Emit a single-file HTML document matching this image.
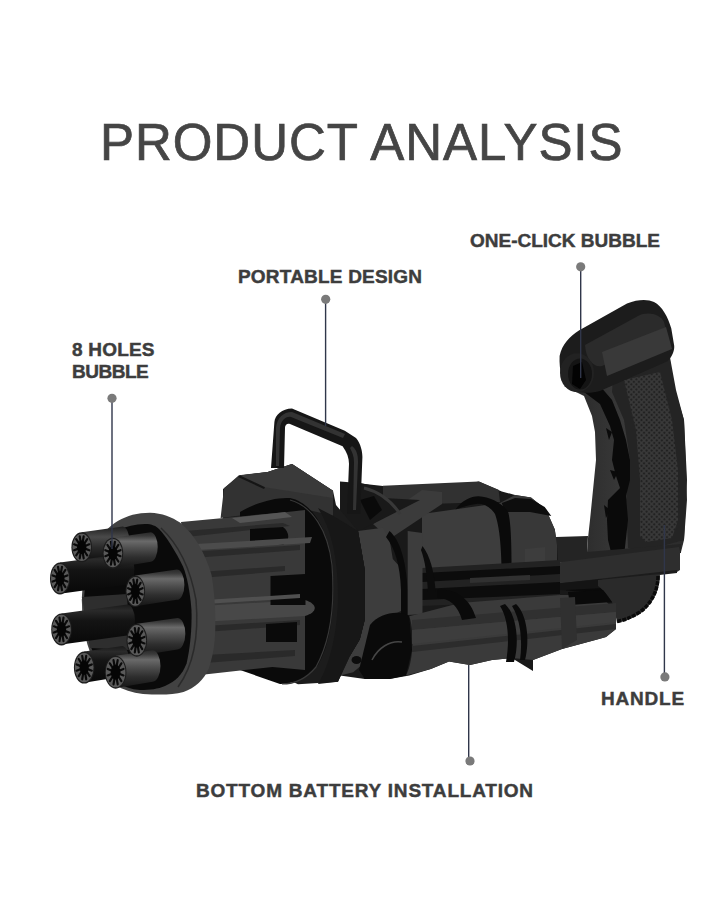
<!DOCTYPE html>
<html><head><meta charset="utf-8">
<style>
html,body{margin:0;padding:0;background:#fff;width:727px;height:900px;overflow:hidden;position:relative}
.t{position:absolute;font-family:"Liberation Sans",sans-serif;white-space:nowrap;line-height:1;color:#3d3d3d}
.title{font-size:51px;color:#454545;left:100px;top:117px;letter-spacing:0.95px;-webkit-text-stroke:0.7px #454545}
.lb{font-weight:bold;font-size:19px;-webkit-text-stroke:0.45px #3d3d3d}
svg{position:absolute;left:0;top:0}
</style></head><body>
<svg width="727" height="900" viewBox="0 0 727 900">

<defs>
<linearGradient id="barrelG" x1="0" y1="0" x2="0" y2="1"><stop offset="0" stop-color="#2a2a2a"/><stop offset="0.1" stop-color="#3a3a3a"/><stop offset="0.25" stop-color="#6a6a6a"/><stop offset="0.45" stop-color="#4e4e4e"/><stop offset="0.7" stop-color="#2e2e2e"/><stop offset="1" stop-color="#151515"/></linearGradient>
<linearGradient id="barrelM" x1="0" y1="0" x2="0" y2="1"><stop offset="0" stop-color="#1e1e1e"/><stop offset="0.3" stop-color="#4a4a4a"/><stop offset="0.6" stop-color="#2a2a2a"/><stop offset="1" stop-color="#0e0e0e"/></linearGradient>
<linearGradient id="barrelD" x1="0" y1="0" x2="0" y2="1"><stop offset="0" stop-color="#1a1a1a"/><stop offset="0.15" stop-color="#2a2a2a"/><stop offset="0.4" stop-color="#141414"/><stop offset="1" stop-color="#080808"/></linearGradient>
<pattern id="knurl" width="3.6" height="3.6" patternUnits="userSpaceOnUse" patternTransform="rotate(45)"><rect width="3.6" height="3.6" fill="#3a3a3a"/><rect x="0.7" y="0.7" width="2.2" height="2.2" fill="#222"/></pattern>
</defs>
<g id="gun">
<!-- ===== GRIP ===== -->
<defs><linearGradient id="gripL" x1="0" y1="0" x2="1" y2="0"><stop offset="0" stop-color="#272727"/><stop offset="0.5" stop-color="#393939"/><stop offset="1" stop-color="#2a2a2a"/></linearGradient></defs>
<g id="grip">
<path d="M564 386 L584 396 L592 416 L595 432 L596 460 L594 480 L592 500 L590 520 L588 538 L587 552 L681 552 L684 540 L687 500 L686 470 L684 420 L672 380 L669 350 L613 376 L590 380 Z" fill="url(#gripL)"/>
<path d="M613 378 L669 352 L676 390 L684 420 L687 480 L684 540 L640 552 L628 548 L626 500 L630 460 L624 420 L612 392 Z" fill="#242424"/>
<path d="M584 392 L600 404 L610 426 L614 440 L612 460 L616 476 L620 488 L608 500 L607 520 L608 540 L612 556 L624 556 L628 520 L626 496 L630 480 L630 460 L626 440 L620 420 L612 400 L600 386 Z" fill="#0a0a0a"/>
<path d="M606 428 L612 432 L609 440 Z M610 470 L618 472 L614 480 Z M604 505 L610 510 L606 518 Z" fill="#0a0a0a"/>
<path d="M624 380 L660 372 L672 420 L678 470 L678 520 L672 538 L646 542 L640 536 L640 480 L636 430 Z" fill="url(#knurl)"/>
</g>
<!-- grip cap -->
<g id="cap">
<path d="M559.6 356 C559 370 562 384 570 389 C576 393 590 394 600 391 L667.5 361.2 C673 356 674.5 350 674.2 345.8 L671.3 328.5 C668 317 662 306 654 302 C648 299 638 299 627 303.5 L578.9 330.4 C570 336 562 344 559.6 356 Z" fill="#1c1c1c"/>
<path d="M585 345 L638 316 C648 311 660 314 664 322 L668 338 L602 366 C594 368 586 360 585 345 Z" fill="#2b2b2b"/>
<path d="M602 352 L666 327 L672 349 L607 376 Z" fill="#393939"/>
<ellipse cx="577" cy="372.8" rx="17" ry="19.5" fill="#222222"/>
<ellipse cx="580" cy="374" rx="12" ry="15.5" fill="#141414"/>
<path d="M573 366 L582 362 L586 380 L580 389 L572 384 Z" fill="#030303"/>
</g>
<!-- trigger bar -->
<g id="bar">
<path d="M556 537 L588 536 L587 552 L681 544 L681 553 L556 563 Z" fill="#242424"/>
<path d="M554 563 L679 547 L680 551 L680 570 L677 572 L554 587 Z" fill="#2e2e2e"/>
<path d="M554 584 L677 570 L677 573 L554 587 Z" fill="#1c1c1c"/>
</g>
<!-- guard curve -->
<g id="guard">
<path d="M552 584 L602 579 L618 612 L598 600 L556 598 Z" fill="#141414"/>
<path d="M566 590 L604 588 L608 600 L568 602 Z" fill="#0a0a0a"/>
<path d="M598 580 L660 574 C660 590 653 604 641 613 C633 618 626 621 617 623 L614 606 C610 598 604 590 598 586 Z" fill="#2a2a2a"/>
<path d="M658 576 C658 591 651 604 640 612 C632 617 625 620 617 621.5" stroke="#0a0a0a" stroke-width="3.5" fill="none" stroke-dasharray="4 1.2"/>
</g>
<!-- ===== MID BODY ===== -->
<g id="mid">
<!-- base silhouette dark -->
<path d="M340 481.6 L361.5 483.2 L373 485.7 L411 489 L460 484.9 L479 481.5 L501.8 491.4 L515 495 L531 497.5 L546 509.6 L554.8 529.4 L557 545 L560 590 L600 593 L616 612 L616 629 L606 637 L599 639 L562 649 L533 660 L533 671 L511.7 658 L492 660 L470 665 L449 661.4 L430.8 669 L409.3 675.6 L389.5 679 L364.8 679 L340 675.6 Z" fill="#191919"/>
<!-- top bar front face -->
<path d="M383 485.7 L478.7 481.5 L498.5 489.7 L500 502 L460 503 L430 504 L400 502 L383 498 Z" fill="#313131"/>
<!-- mid cylinder -->
<path d="M422 514 L500 503 L515 506 L520 590 L422 600 Z" fill="#3d3d3d"/>
<!-- right segment -->
<path d="M500 503 L515 495 L531 497.5 L546 509.6 L554.8 529.4 L557 545 L557 588 L510 592 L505 520 Z" fill="#383838"/>
<path d="M501.8 503 L515 498 L531 499 L544.7 507 L551.3 516 L530 512 L505 512 Z" fill="#0d0d0d"/>
<path d="M525 549 L545 547 L545 566 L525 568 Z" fill="#3d3d3d"/>
<!-- black C arc -->
<path d="M455.5 509.5 C462 500 472 496 478.7 496.3 C490 497 503 503 508.4 512.8 C511 525 511.7 540 511.7 590 L501.8 591 C501.8 560 501 530 495 514 C490 506 482 503 476 504 C468 505 460 508 455.5 509.5 Z" fill="#0a0a0a"/>
<!-- beam -->
<path d="M373 524 L422 490 L442 492 L442 504 L389.5 539 Z" fill="#3b3b3b"/>
<!-- openings above plate (rings behind) -->
<path d="M356 483 L383 486 L383 498 L420 500 L373 524 L360 530 L356 520 Z" fill="#191919"/>
<path d="M360 500 L374 496 L382 510 L370 520 Z" fill="#0a0a0a"/>
<path d="M364 488 C380 492 392 502 400 514" stroke="#383838" stroke-width="3" fill="none"/>
<!-- black strip band -->
<path d="M422 568 L560 560 L560 600 L422 606 Z" fill="#222222"/>
<path d="M422 573 L560 566 L560 574 L422 582 Z" fill="#0c0c0c"/>
<path d="M422 589 L560 582 L560 594 L422 600 Z" fill="#0c0c0c"/>
<path d="M470 578 L530 575 L530 580 L470 583 Z" fill="#313131"/>
<!-- plate (housing front) -->
<path d="M358 531 L383 527.8 L389.5 539.3 L392.8 559 L402.7 570 L401 611 L389.5 616.2 L376.3 639.3 L364.8 662.4 L353.2 672.3 L340 675.6 L340 662.4 L350 655.8 L359.8 639.3 L364.8 619.5 L364.8 570 Z" fill="#3d3d3d"/>
<path d="M340 523 L358 531 L364.8 570 L364.8 619.5 L359.8 639.3 L350 655.8 L340 662.4 Z" fill="#0a0a0a"/>
<ellipse cx="356.5" cy="660" rx="5" ry="4" fill="#0c0c0c"/>
<!-- thin ring -->
<path d="M389.5 531 C400 540 406 560 407.7 590 L407.7 615 L401 615 L401 590 C400 565 395 548 386 537 Z" fill="#0a0a0a"/>
<path d="M407.7 531 L422.5 533 L422.5 614 L407.7 615 Z" fill="#3d3d3d"/>
<path d="M422.5 546 C430 556 434 570 435.7 592 L428 592 C427 575 425 560 421 550 Z" fill="#0c0c0c"/>
<!-- tube opening black -->
<path d="M370 625 C380 612 400 610 409.3 616 L412 650 L406 675.6 L389.5 679 L364.8 679 L359 670 Z" fill="#0a0a0a"/>
<path d="M372 660 C378 648 390 640 402 642" stroke="#464646" stroke-width="1.5" fill="none"/>
<!-- battery tube -->
<path d="M409.3 616.2 L460 603 L560 595 L600 595 L616 612 L616 629 L606 637 L599 639 L562 649 L533 660 L511.7 658 L492 660 L470 665 L449 661.4 L430.8 669 L406 675.6 C414 660 414 630 409.3 616.2 Z" fill="#3a3a3a"/>
<path d="M412 646 L616 624 L616 629 L412 652 Z" fill="#2c2c2c"/>
<path d="M568 592 L603 590 L612 602 L570 605 Z" fill="#0a0a0a"/>
<path d="M412 620 L616 603 L616 612 L412 630 Z" fill="#303030"/>
<path d="M412 630 L616 612 L616 622 L412 644 Z" fill="#3d3d3d"/>
<path d="M437 590 C455 588 470 598 476 618 L462 620 C458 606 450 598 437 598 Z" fill="#0a0a0a"/>
<path d="M505 604 C516 614 520 640 514 662 L506 662 C510 640 508 618 500 606 Z" fill="#0a0a0a"/>
<path d="M516 604 C527 614 530 640 525 660 L520 660 C523 640 520 618 512 606 Z" fill="#0a0a0a"/>
<path d="M560 598 L575 597 L577 640 L562 649 Z" fill="#303030"/>
</g>
<!-- ===== HOUSING ===== -->
<g id="house">
<!-- housing face -->
<path d="M223 489 L240 475.6 L267.8 472 L292 464 L333 490.8 L336 505 L358 531 L364.8 570 L364.8 619.5 L359.8 639.3 L350 655.8 L338 681.7 L298 684.3 L263 668 L223 668 Z" fill="#1c1c1c"/>
<!-- top block front -->
<path d="M224 488.2 L238.9 475.2 L267.8 472 L292 464 L333 490.8 L333 515.8 L300 508 L220.6 518 Z" fill="#323232"/>
<path d="M240 475.6 L267.8 472 L292 464 L333 490.8 L333 498 L265 487.2 Z" fill="#3a3a3a"/>
<path d="M240 475.6 L265 487.2 L264 489 L238 477 Z" fill="#151515"/>
<!-- black rear ring -->
<path d="M240 512 C255 503 275 497 290 498 C310 502 326 525 332 560 C336 600 332 640 318 665 C308 678 295 684 280 684 L240 670 Z" fill="#0a0a0a"/>
<path d="M290 500 C312 506 328 530 332 565 C335 605 331 640 316 667 C306 679 294 684 282 684" stroke="#383838" stroke-width="1.2" fill="none"/>
<path d="M333 515.8 L358 531 L364.8 570 L364.8 619.5 L359.8 639.3 L350 655.8 L338 681.7 L318 684 C330 665 338 630 338 595 C338 560 332 530 318 508 Z" fill="#171717"/>
</g>
<!-- carry handle -->
<g id="handle">
<path d="M271 468 L274.4 422 C275 415 282 408.4 292 408.4 L344.8 430.8 L356 438 C361 444 362.4 452 362.4 457 L360.2 514 L347 514 L349 463.8 C349 458 347 452 342.6 446.2 L290 424 C287 423 285 425 285 428 L284 468 Z" fill="#161616"/>
<path d="M276 428 C277 418 283 412 292 412 L345 434 L343 438 L291 417 C286 416 281 420 280 428 L279 466 L276 466 Z" fill="#333333"/>
<path d="M352 446 C357 450 358 455 358 462 L356 510 L353 510 L354 462 C354 456 352 452 350 448 Z" fill="#333333"/>
</g>
<!-- ===== FRONT BODY ===== -->
<g id="fbody">
<path d="M181 522 L282.8 512.4 L305 510 L305 670 L272.5 667 L200 675 Z" fill="#393939"/>
<path d="M185 531 L283 523 L290 526 L186 537 Z" fill="#2a2a2a"/>
<path d="M195 551.6 L300 545 L300 550 L196 557.8 Z" fill="#2a2a2a"/>
<path d="M200 572 L285 566 L285 571 L200 578 Z" fill="#2a2a2a"/>
<path d="M205 626 L300 620 L300 625 L205 632 Z" fill="#2a2a2a"/>
<path d="M205 655 L295 650 L295 656 L205 663 Z" fill="#2a2a2a"/>
<path d="M200 606 L305 600 C318 604 318 612 305 616 L200 622 Z" fill="#484848"/>
<path d="M250 529 L283 527 C290 532 290 542 283 545 L250 545 Z" fill="#0a0a0a"/>
<path d="M270.5 576 L305.5 574 L305.5 605 L270.5 605 Z" fill="#0a0a0a"/>
<path d="M266 624 L297 622 L297 642 L266 642 Z" fill="#0a0a0a"/>
</g>
<path d="M232 518 L285 512 L292 517 L240 523 Z" fill="#555"/>
<path d="M196 544 L312 537 L310 543 L198 550 Z" fill="#4c4c4c"/>
<path d="M205 600 L300 594 L300 598 L205 604 Z" fill="#505050"/>
<!-- ===== FRONT DISC ===== -->
<g id="disc">
<path d="M150 512.7 C162 513 172 517 180 522.6 C195 535 205 553 211.6 575 C214 590 215.5 606 215.3 622.7 C215.5 640 214 652 209 668 C204 680 195 688 183.5 692 C172 695 160 695 143 694 C100 690 82 650 82 604 C82 560 100 512.7 150 512.7 Z" fill="#424242"/>
<path d="M161 528 C176 542 190 566 196 600 C199 635 194 665 178 687" stroke="#2a2a2a" stroke-width="1.5" fill="none"/>
<path d="M145 524 C152 524 156 526 159 529 C166 536 176 552 183 566.6 C187 576 190 592 191.5 610 C192 630 190 648 186.6 663.5 C182 675 176 681 165 686 C158 689 150 690 140 690 C105 688 84 650 84 604 C84 560 105 524 145 524 Z" fill="#0a0a0a"/>
<path d="M82 597 L127 594 L130 650 L90 648 Z" fill="#2e2e2e"/>
</g>
</g>
<g id="barrels">
<path d="M81.7 532.3 L122.8 526.5 A7.2 14.4 0 0 1 122.8 555.2 L81.7 561.5 Z" fill="url(#barrelM)"/>
<path d="M60.0 562.5 L127.2 553.5 A7.8 15.6 0 0 1 127.2 584.6 L60.0 593.7 Z" fill="url(#barrelD)"/>
<path d="M61.5 613.4 L127.2 604.6 A7.8 15.5 0 0 1 127.2 635.6 L61.5 644.6 Z" fill="url(#barrelD)"/>
<path d="M84.2 651.6 L122.4 646.1 A7.6 15.3 0 0 1 122.4 676.6 L84.2 682.8 Z" fill="url(#barrelD)"/>
<path d="M112.9 537.7 L150.9 532.3 A7.4 14.8 0 0 1 150.9 561.8 L112.9 567.9 Z" fill="url(#barrelG)"/>
<path d="M135.3 575.5 L176.8 569.6 A7.6 15.1 0 0 1 176.8 599.8 L135.3 606.3 Z" fill="url(#barrelG)"/>
<path d="M136.8 623.7 L177.4 617.9 A7.9 15.7 0 0 1 177.4 649.4 L136.8 655.9 Z" fill="url(#barrelG)"/>
<path d="M115.6 655.7 L152.6 650.3 A7.9 15.7 0 0 1 152.6 681.7 L115.6 687.9 Z" fill="url(#barrelG)"/>
<ellipse cx="81.7" cy="547.3" rx="10.3" ry="15.0" fill="#1c1c1c"/>
<ellipse cx="81.7" cy="547.3" rx="9.3" ry="13.6" fill="#5a5a5a"/>
<path d="M85.7 548.9L89.3 550.3M84.6 551.5L87.2 555.4M82.8 553.1L83.7 558.3M80.6 553.1L79.7 558.3M78.8 551.5L76.2 555.4M77.7 548.9L74.1 550.3M77.7 545.7L74.1 544.3M78.8 543.1L76.2 539.2M80.6 541.5L79.7 536.3M82.8 541.5L83.7 536.3M84.6 543.1L87.2 539.2M85.7 545.7L89.3 544.3" stroke="#0a0a0a" stroke-width="2.2" stroke-linecap="round"/>
<ellipse cx="81.7" cy="547.3" rx="4.6" ry="6.8" fill="#050505"/>
<ellipse cx="60.0" cy="578.5" rx="10.0" ry="16.0" fill="#1c1c1c"/>
<ellipse cx="60.0" cy="578.5" rx="9.0" ry="14.6" fill="#5a5a5a"/>
<path d="M63.9 580.2L67.3 581.6M62.8 583.0L65.4 587.1M61.0 584.7L62.0 590.2M59.0 584.7L58.0 590.2M57.2 583.0L54.6 587.1M56.1 580.2L52.7 581.6M56.1 576.8L52.7 575.4M57.2 574.0L54.6 569.9M59.0 572.3L58.0 566.8M61.0 572.3L62.0 566.8M62.8 574.0L65.4 569.9M63.9 576.8L67.3 575.4" stroke="#0a0a0a" stroke-width="2.2" stroke-linecap="round"/>
<ellipse cx="60.0" cy="578.5" rx="4.5" ry="7.2" fill="#050505"/>
<ellipse cx="61.5" cy="629.4" rx="10.3" ry="16.0" fill="#1c1c1c"/>
<ellipse cx="61.5" cy="629.4" rx="9.3" ry="14.6" fill="#5a5a5a"/>
<path d="M65.5 631.1L69.1 632.5M64.4 633.9L67.0 638.0M62.6 635.6L63.5 641.1M60.4 635.6L59.5 641.1M58.6 633.9L56.0 638.0M57.5 631.1L53.9 632.5M57.5 627.7L53.9 626.3M58.6 624.9L56.0 620.8M60.4 623.2L59.5 617.7M62.6 623.2L63.5 617.7M64.4 624.9L67.0 620.8M65.5 627.7L69.1 626.3" stroke="#0a0a0a" stroke-width="2.2" stroke-linecap="round"/>
<ellipse cx="61.5" cy="629.4" rx="4.6" ry="7.2" fill="#050505"/>
<ellipse cx="84.2" cy="667.6" rx="10.3" ry="16.0" fill="#1c1c1c"/>
<ellipse cx="84.2" cy="667.6" rx="9.3" ry="14.6" fill="#5a5a5a"/>
<path d="M88.2 669.3L91.8 670.7M87.1 672.1L89.7 676.2M85.3 673.8L86.2 679.3M83.1 673.8L82.2 679.3M81.3 672.1L78.7 676.2M80.2 669.3L76.6 670.7M80.2 665.9L76.6 664.5M81.3 663.1L78.7 659.0M83.1 661.4L82.2 655.9M85.3 661.4L86.2 655.9M87.1 663.1L89.7 659.0M88.2 665.9L91.8 664.5" stroke="#0a0a0a" stroke-width="2.2" stroke-linecap="round"/>
<ellipse cx="84.2" cy="667.6" rx="4.6" ry="7.2" fill="#050505"/>
<ellipse cx="112.9" cy="553.2" rx="10.3" ry="15.5" fill="#1c1c1c"/>
<ellipse cx="112.9" cy="553.2" rx="9.3" ry="14.1" fill="#5a5a5a"/>
<path d="M116.9 554.8L120.5 556.2M115.8 557.6L118.4 561.5M114.0 559.2L114.9 564.6M111.8 559.2L110.9 564.6M110.0 557.6L107.4 561.5M108.9 554.8L105.3 556.2M108.9 551.6L105.3 550.2M110.0 548.8L107.4 544.9M111.8 547.2L110.9 541.8M114.0 547.2L114.9 541.8M115.8 548.8L118.4 544.9M116.9 551.6L120.5 550.2" stroke="#0a0a0a" stroke-width="2.2" stroke-linecap="round"/>
<ellipse cx="112.9" cy="553.2" rx="4.6" ry="7.0" fill="#050505"/>
<ellipse cx="135.3" cy="591.3" rx="9.8" ry="15.8" fill="#1c1c1c"/>
<ellipse cx="135.3" cy="591.3" rx="8.8" ry="14.4" fill="#5a5a5a"/>
<path d="M139.1 592.9L142.5 594.4M138.1 595.8L140.6 599.8M136.3 597.4L137.2 602.9M134.3 597.4L133.4 602.9M132.5 595.8L130.0 599.8M131.5 592.9L128.1 594.4M131.5 589.7L128.1 588.2M132.5 586.8L130.0 582.8M134.3 585.2L133.4 579.7M136.3 585.2L137.2 579.7M138.1 586.8L140.6 582.8M139.1 589.7L142.5 588.2" stroke="#0a0a0a" stroke-width="2.2" stroke-linecap="round"/>
<ellipse cx="135.3" cy="591.3" rx="4.4" ry="7.1" fill="#050505"/>
<ellipse cx="136.8" cy="640.2" rx="10.3" ry="16.5" fill="#1c1c1c"/>
<ellipse cx="136.8" cy="640.2" rx="9.3" ry="15.1" fill="#5a5a5a"/>
<path d="M140.8 641.9L144.4 643.4M139.7 644.9L142.3 649.1M137.9 646.6L138.8 652.3M135.7 646.6L134.8 652.3M133.9 644.9L131.3 649.1M132.8 641.9L129.2 643.4M132.8 638.5L129.2 637.0M133.9 635.5L131.3 631.3M135.7 633.8L134.8 628.1M137.9 633.8L138.8 628.1M139.7 635.5L142.3 631.3M140.8 638.5L144.4 637.0" stroke="#0a0a0a" stroke-width="2.2" stroke-linecap="round"/>
<ellipse cx="136.8" cy="640.2" rx="4.6" ry="7.4" fill="#050505"/>
<ellipse cx="115.6" cy="672.2" rx="10.8" ry="16.5" fill="#1c1c1c"/>
<ellipse cx="115.6" cy="672.2" rx="9.8" ry="15.1" fill="#5a5a5a"/>
<path d="M119.8 673.9L123.5 675.4M118.7 676.9L121.4 681.1M116.7 678.6L117.7 684.3M114.5 678.6L113.5 684.3M112.5 676.9L109.8 681.1M111.4 673.9L107.7 675.4M111.4 670.5L107.7 669.0M112.5 667.5L109.8 663.3M114.5 665.8L113.5 660.1M116.7 665.8L117.7 660.1M118.7 667.5L121.4 663.3M119.8 670.5L123.5 669.0" stroke="#0a0a0a" stroke-width="2.2" stroke-linecap="round"/>
<ellipse cx="115.6" cy="672.2" rx="4.9" ry="7.4" fill="#050505"/>
</g>
<g id="lines" stroke="#30364a" stroke-width="1.4" fill="none">
<line x1="580.7" y1="267" x2="580.7" y2="378"/>
<line x1="325.6" y1="299" x2="325.6" y2="426"/>
<line x1="112" y1="398" x2="112" y2="549"/>
<line x1="664.4" y1="525" x2="664.4" y2="677"/>
<line x1="468.7" y1="665" x2="468.7" y2="761"/>
</g>
<g id="dots" fill="#7a7a7a">
<circle cx="580.7" cy="266.8" r="4.6"/>
<circle cx="325.7" cy="299.3" r="4.6"/>
<circle cx="112" cy="398.3" r="4.6"/>
<circle cx="664.9" cy="676.9" r="4.6"/>
<circle cx="470" cy="761" r="4.6"/>
</g>
</svg>
<div class="t title">PRODUCT ANALYSIS</div>
<div class="t lb" style="left:470px;top:231px">ONE-CLICK BUBBLE</div>
<div class="t lb" style="left:238px;top:267px;letter-spacing:0.2px">PORTABLE DESIGN</div>
<div class="t lb" style="left:72px;top:339px;line-height:22px"><span style="letter-spacing:0.2px">8 HOLES</span><br><span style="letter-spacing:-0.5px">BUBBLE</span></div>
<div class="t lb" style="left:601px;top:689px;letter-spacing:0.8px">HANDLE</div>
<div class="t lb" style="left:196px;top:781px;letter-spacing:0.8px">BOTTOM BATTERY INSTALLATION</div>
</body></html>
